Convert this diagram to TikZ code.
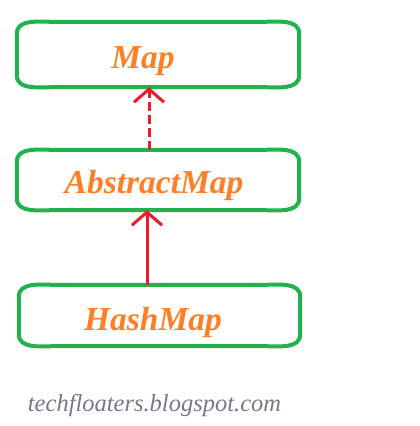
\documentclass[tikz,border=0pt]{standalone}
\usepackage{fontspec}
\usetikzlibrary{arrows.meta}
\newfontfamily\labelfont{Liberation Serif}
\newfontfamily\footfont{Liberation Serif}
\definecolor{boxgreen}{HTML}{22B14C}
\definecolor{arrred}{HTML}{ED1C24}
\definecolor{txtorange}{HTML}{FF7F27}
\definecolor{footgray}{HTML}{767A88}
\tikzset{
  boxline/.style={draw=boxgreen, line width=4pt},
  boxspace/.style={inner sep=0pt, draw=none},
  lbl/.style={text=txtorange, font=\labelfont\bfseries\itshape\fontsize{33.5}{40}\selectfont, inner sep=0pt},
  conn/.style={draw=arrred, line width=3pt, -{Straight Barb[length=13pt,width=30pt,line width=3pt]}},
}
\newcommand\tapebox[1]{%
  \draw[boxline] ([yshift=-12pt]#1.north west) to[out=90,in=180] ([xshift=36pt]#1.north west)
    -- ([xshift=-36pt]#1.north east) to[out=0,in=90] ([yshift=-12pt]#1.north east)
    -- ([yshift=12pt]#1.south east) to[out=-90,in=0] ([xshift=-36pt]#1.south east)
    -- ([xshift=36pt]#1.south west) to[out=180,in=-90] ([yshift=12pt]#1.south west) -- cycle;}
\begin{document}
\begin{tikzpicture}[x=1pt,y=-1pt]
\useasboundingbox[fill=white] (0,0) rectangle (420,426);
\node[boxspace, minimum width=282pt, minimum height=65pt] (mapbox) at (158,54.5) {};
\node[boxspace, minimum width=282pt, minimum height=60pt] (absbox) at (158,180) {};
\node[boxspace, minimum width=281pt, minimum height=61pt] (hashbox) at (159.5,315.5) {};
\tapebox{mapbox}
\tapebox{absbox}
\tapebox{hashbox}
\node[lbl] (map) at (143,61) {Map};
\node[lbl] (abs) at (154,185) {AbstractMap};
\node[lbl] (hash) at (153,322) {HashMap};
\coordinate (a1) at (149,0);
\coordinate (a2) at (147,0);
\draw[conn, dash pattern=on 9pt off 4pt] (absbox.north -| a1) -- (mapbox.south -| a1);
\draw[conn] (hashbox.north -| a2) -- (absbox.south -| a2);
\node[text=footgray, font=\footfont\itshape\fontsize{24.5}{29}\selectfont, inner sep=0pt] (foot) at (154.5,405) {techfloaters.blogspot.com};
\end{tikzpicture}
\end{document}
